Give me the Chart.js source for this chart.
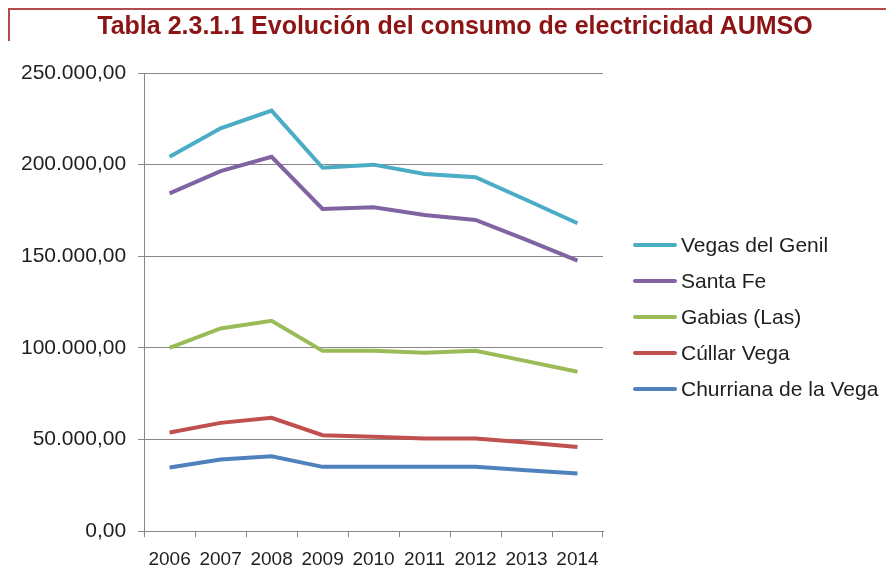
<!DOCTYPE html>
<html>
<head>
<meta charset="utf-8">
<script src="https://cdn.jsdelivr.net/npm/chart.js@4/dist/chart.umd.min.js"></script>
<style>
  html, body { margin: 0; padding: 0; background: #fff; overflow: hidden; }
  #wrap { width: 886px; height: 582px; position: relative; }
  #title {
    position: absolute; left: 0; top: 10px; width: 910px; text-align: center;
    font: bold 25px "Liberation Sans", Arial, sans-serif; color: #8c1414;
    line-height: 30px; white-space: nowrap;
  }
  #legend { position: absolute; left: 633px; top: 227px; }
  .item { height: 36px; display: flex; align-items: center;
          font: 21px "Liberation Sans", Arial, sans-serif; color: #1f1f1f; white-space: nowrap; }
  .item span.ln { display: inline-block; width: 44px; height: 4px; margin-right: 4px; border-radius: 2px; }
</style>
</head>
<body>
<div id="wrap">
  <canvas id="myChart"></canvas>
  <div id="title">Tabla 2.3.1.1 Evolución del consumo de electricidad AUMSO</div>
  <div id="legend"></div>
</div>
<script>
const years = ['2006', '2007', '2008', '2009', '2010', '2011', '2012', '2013', '2014'];

const vegasDelGenil = [204300, 219800, 229500, 198300, 200000, 194900, 193100, 180700, 168000];
const santaFe       = [184300, 196500, 204300, 175800, 176700, 172500, 169800, 158900, 147600];
const gabias        = [100000, 110600, 114800, 98400, 98400, 97300, 98400, 92800, 87000];
const cullarVega    = [53900, 59100, 61900, 52400, 51500, 50600, 50600, 48400, 46000];
const churriana     = [34800, 39100, 40900, 35100, 35100, 35100, 35100, 33300, 31500];

const seriesNames  = ['Vegas del Genil', 'Santa Fe', 'Gabias (Las)', 'Cúllar Vega', 'Churriana de la Vega'];
const seriesColors = ['#4bacc6', '#8064a2', '#9bbb59', '#c0504d', '#4f81bd'];

// 250000 -> "250.000,00"
const fmt = (v) => {
  const s = Math.round(v).toString().replace(/\B(?=(\d{3})+(?!\d))/g, '.');
  return s + ',00';
};

// the thin reddish frame round the title
const frame = {
  id: 'frame',
  beforeDraw(chart) {
    const c = chart.ctx;
    c.save();
    c.strokeStyle = '#b24c4c';
    c.lineWidth = 2;
    c.beginPath();
    c.moveTo(9, 41);
    c.lineTo(9, 9);
    c.lineTo(886, 9);
    c.stroke();
    c.restore();
  }
};

const displayChart = () => {
  const ctx = document.getElementById('myChart').getContext('2d');
  const data = [vegasDelGenil, santaFe, gabias, cullarVega, churriana];
  const chart = new Chart(ctx, {
    type: 'line',
    data: {
      labels: years,
      datasets: data.map((d, i) => ({
        label: seriesNames[i],
        data: d,
        borderColor: seriesColors[i],
        backgroundColor: seriesColors[i],
        borderWidth: 4,
        pointRadius: 0,
        tension: 0,
        fill: false
      }))
    },
    options: {
      responsive: true,
      maintainAspectRatio: false,
      animation: false,
      layout: { padding: { left: 9, right: 283, top: 73, bottom: 0 } },
      plugins: {
        title: { display: false },
        legend: { display: false },
        tooltip: { enabled: false }
      },
      scales: {
        x: {
          offset: true,
          grid: { display: true, offset: true, drawOnChartArea: false, drawTicks: true, tickLength: 6, color: '#878787' },
          border: { color: '#878787', width: 1 },
          ticks: { color: '#1f1f1f', font: { family: 'Liberation Sans', size: 19 }, padding: 11, maxRotation: 0 }
        },
        y: {
          min: 0,
          max: 250000,
          grid: { color: '#878787', tickLength: 6 },
          border: { color: '#878787', width: 1 },
          ticks: { stepSize: 50000, color: '#1f1f1f', font: { family: 'Liberation Sans', size: 21 }, padding: 12, callback: fmt }
        }
      }
    },
    plugins: [frame]
  });

  // legend built from the chart's own datasets
  const leg = document.getElementById('legend');
  chart.data.datasets.forEach((ds) => {
    const row = document.createElement('div');
    row.className = 'item';
    const ln = document.createElement('span');
    ln.className = 'ln';
    ln.style.background = ds.borderColor;
    row.appendChild(ln);
    row.appendChild(document.createTextNode(ds.label));
    leg.appendChild(row);
  });
};

displayChart();
</script>
</body>
</html>
